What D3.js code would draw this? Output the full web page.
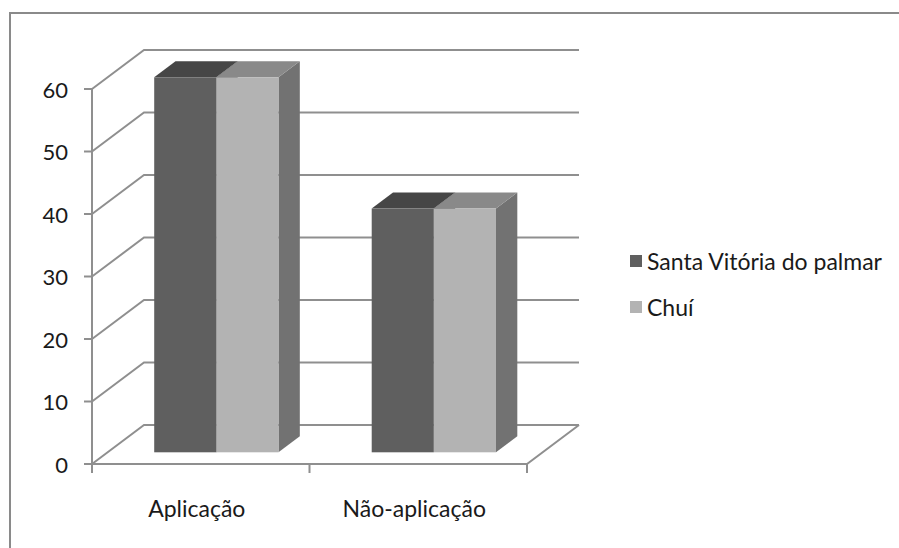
<!DOCTYPE html>
<html>
<head>
<meta charset="utf-8">
<script src="https://cdn.jsdelivr.net/npm/d3@7"></script>
<style>
  html, body { margin: 0; padding: 0; background: #fff; }
  svg { display: block; }
  text { font-family: Lato, "Open Sans", sans-serif; fill: #1a1a1a; }
</style>
</head>
<body>
<svg id="chart" width="899" height="548"></svg>
<script>
// Data
const categories = ["Aplicação", "Não-aplicação"];
const seriesNames = ["Santa Vitória do palmar", "Chuí"];
const santaVitoria = [60, 39];
const chui = [60, 39];
const yTicks = [0, 10, 20, 30, 40, 50, 60];

const seriesValues = [santaVitoria, chui];

// Colours per series: front, top, side
const palette = [
  { front: "#5f5f5f", top: "#464646", side: "#505050" },
  { front: "#b3b3b3", top: "#898989", side: "#727272" }
];
const gridColor = "#8f8f8f";

const svg = d3.select("#chart");

// Outer chart frame (extends past the right and bottom of the view)
svg.append("rect")
  .attr("x", 10).attr("y", 13)
  .attr("width", 900).attr("height", 560)
  .attr("fill", "none").attr("stroke", "#8a8a8a").attr("stroke-width", 2);

// Front plane of the plot and the 3-D depth offset
const plot = { left: 92, right: 527, bottom: 464, top: 89 };
const depth = { dx: 52, dy: -39 };
const barDepth = [0.3, 0.71];

const y = d3.scaleLinear().domain([0, 60]).range([plot.bottom, plot.top]);
const x = d3.scaleBand().domain(categories).range([plot.left, plot.right]).padding(0);
// gap width 150% of a bar between clusters
const clusterW = x.bandwidth() * 2 / 3.5;
const inner = d3.scaleBand().domain(d3.range(seriesNames.length)).range([0, clusterW]).padding(0);

const grid = svg.append("g")
  .attr("fill", "none").attr("stroke", gridColor).attr("stroke-width", 2);

// Back wall gridlines and side wall diagonals
yTicks.forEach(t => {
  const yy = y(t);
  grid.append("path")
    .attr("d", d3.line()([
      [plot.left, yy],
      [plot.left + depth.dx, yy + depth.dy],
      [plot.right + depth.dx, yy + depth.dy]
    ]));
});

// Floor: front edge and right edge
grid.append("path")
  .attr("d", d3.line()([
    [plot.left, y(0)],
    [plot.right, y(0)],
    [plot.right + depth.dx, y(0) + depth.dy]
  ]));

// Value axis
grid.append("line")
  .attr("x1", plot.left).attr("x2", plot.left)
  .attr("y1", y(60)).attr("y2", y(0) + 2);

const yAxis = svg.append("g");
yTicks.forEach(t => {
  yAxis.append("line")
    .attr("x1", plot.left - 8).attr("x2", plot.left)
    .attr("y1", y(t)).attr("y2", y(t))
    .attr("stroke", gridColor).attr("stroke-width", 2);
  yAxis.append("text")
    .attr("x", plot.left - 24).attr("y", y(t))
    .attr("text-anchor", "end").attr("dominant-baseline", "central")
    .attr("font-size", 22)
    .text(t);
});

// Category axis ticks and labels
const catEdges = [plot.left].concat(categories.map(c => x(c) + x.bandwidth()));
catEdges.forEach(e => {
  svg.append("line")
    .attr("x1", e).attr("x2", e)
    .attr("y1", y(0)).attr("y2", y(0) + 9)
    .attr("stroke", gridColor).attr("stroke-width", 2);
});
categories.forEach(c => {
  svg.append("text")
    .attr("x", x(c) + x.bandwidth() / 2 - 4)
    .attr("y", 508)
    .attr("text-anchor", "middle").attr("dominant-baseline", "central")
    .attr("font-size", 23)
    .text(c);
});

// 3-D bars
const bars = svg.append("g");
categories.forEach((c, ci) => {
  const clusterLeft = x(c) + (x.bandwidth() - clusterW) / 2;
  seriesValues.forEach((vals, si) => {
    const v = vals[ci];
    const col = palette[si];
    const a = clusterLeft + inner(si);
    const b = a + inner.bandwidth();
    const f1x = barDepth[0] * depth.dx, f1y = barDepth[0] * depth.dy;
    const f2x = barDepth[1] * depth.dx, f2y = barDepth[1] * depth.dy;
    const yv = y(v), y0 = y(0);
    // right side face
    bars.append("path")
      .attr("fill", col.side)
      .attr("d", d3.line()([
        [b + f1x, yv + f1y], [b + f2x, yv + f2y],
        [b + f2x, y0 + f2y], [b + f1x, y0 + f1y]
      ]) + "Z");
    // top face
    bars.append("path")
      .attr("fill", col.top)
      .attr("d", d3.line()([
        [a + f1x, yv + f1y], [b + f1x, yv + f1y],
        [b + f2x, yv + f2y], [a + f2x, yv + f2y]
      ]) + "Z");
    // front face
    bars.append("rect")
      .attr("fill", col.front)
      .attr("x", a + f1x).attr("y", yv + f1y)
      .attr("width", b - a).attr("height", y0 - yv);
  });
});

// Legend
const legend = svg.append("g");
seriesNames.forEach((name, i) => {
  const cy = 261 + i * 46;
  legend.append("rect")
    .attr("x", 630).attr("y", cy - 6)
    .attr("width", 12).attr("height", 12)
    .attr("fill", palette[i].front);
  legend.append("text")
    .attr("x", 647).attr("y", cy)
    .attr("dominant-baseline", "central")
    .attr("font-size", 23)
    .text(name);
});
</script>
</body>
</html>
